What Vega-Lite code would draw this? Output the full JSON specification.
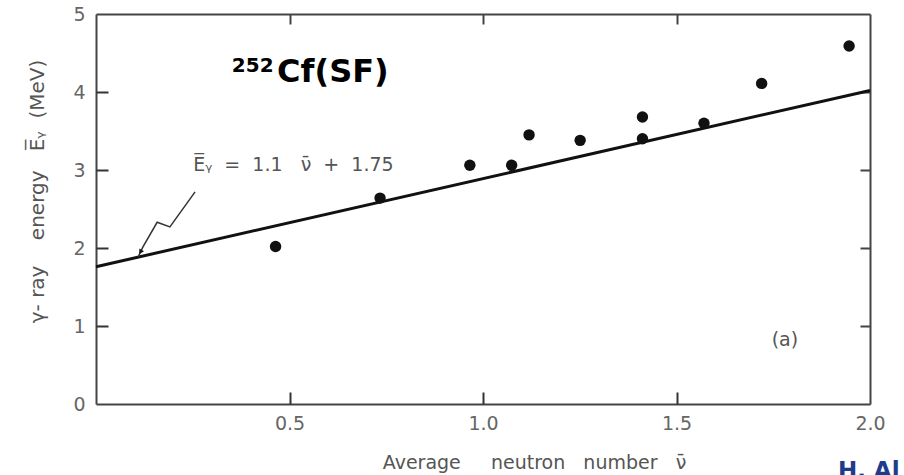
{
  "$schema": "https://vega.github.io/schema/vega-lite/v6.json",
  "width": 774,
  "height": 390,
  "autosize": {"type": "none"},
  "padding": {"left": 96, "top": 14, "right": 34, "bottom": 71},
  "background": "white",
  "config": {"view": {"stroke": null}, "font": "DejaVu Sans"},
  "datasets": {
    "points": [
      {"nu": 0.464, "E": 2.02},
      {"nu": 0.734, "E": 2.64},
      {"nu": 0.966, "E": 3.06},
      {"nu": 1.074, "E": 3.06},
      {"nu": 1.119, "E": 3.45},
      {"nu": 1.251, "E": 3.38},
      {"nu": 1.412, "E": 3.40},
      {"nu": 1.412, "E": 3.68},
      {"nu": 1.571, "E": 3.60},
      {"nu": 1.720, "E": 4.11},
      {"nu": 1.946, "E": 4.59}
    ],
    "fit": [
      {"nu": 0, "E": 1.76},
      {"nu": 2, "E": 4.02}
    ],
    "squiggle": [
      {"nu": 0.109, "E": 1.885, "order": 1},
      {"nu": 0.121, "E": 2.01, "order": 2},
      {"nu": 0.158, "E": 2.33, "order": 3},
      {"nu": 0.191, "E": 2.27, "order": 4},
      {"nu": 0.256, "E": 2.72, "order": 5}
    ]
  },
  "layer": [
    {
      "data": {"name": "fit"},
      "mark": {"type": "line", "color": "#111111", "strokeWidth": 3},
      "encoding": {
        "x": {"field": "nu", "type": "quantitative", "scale": {"domain": [0, 2], "nice": false, "zero": false},
          "axis": {"orient": "top", "ticks": false, "labels": false, "title": null, "grid": false,
            "domainColor": "#444444", "domainWidth": 2}},
        "y": {"field": "E", "type": "quantitative", "scale": {"domain": [0, 5], "nice": false},
          "axis": {"orient": "right", "ticks": false, "labels": false, "title": null, "grid": false,
            "domainColor": "#444444", "domainWidth": 2}}
      }
    },
    {
      "data": {"name": "points"},
      "mark": {"type": "point", "filled": true, "color": "#111111", "size": 130, "opacity": 1},
      "encoding": {
        "x": {"field": "nu", "type": "quantitative",
          "axis": {"orient": "bottom", "values": [0.5, 1, 1.5, 2], "format": ".1f", "grid": false,
            "ticks": false, "tickSize": 0, "domainColor": "#444444", "domainWidth": 2,
            "labelPadding": 10, "labelFontSize": 19, "labelColor": "#666666", "labelFlush": false, "labelOverlap": false,
            "title": "Average\u00a0\u00a0\u00a0\u00a0\u00a0neutron\u00a0\u00a0\u00a0number\u00a0\u00a0\u00a0ν̄", "titleFontSize": 19, "titleFontWeight": "normal", "titleColor": "#555555",
            "titleX": 438, "titleY": 58, "titleAlign": "center", "titleBaseline": "middle"}},
        "y": {"field": "E", "type": "quantitative",
          "axis": {"orient": "left", "values": [0, 1, 2, 3, 4, 5], "format": "d", "grid": false,
            "ticks": false, "tickSize": 0, "domainColor": "#444444", "domainWidth": 2,
            "labelPadding": 11, "labelFontSize": 19, "labelColor": "#666666", "labelFlush": false, "labelOverlap": false,
            "title": "γ-\u00a0ray\u00a0\u00a0\u00a0\u00a0energy\u00a0\u00a0\u00a0E̅ᵧ\u00a0\u00a0(MeV)", "titleFontSize": 20, "titleFontWeight": "normal", "titleColor": "#555555",
            "titleX": -59, "titleY": 177, "titleAlign": "center", "titleBaseline": "middle", "titleAngle": -90}}
      }
    },
    {
      "data": {"name": "squiggle"},
      "mark": {"type": "line", "color": "#333333", "strokeWidth": 1.5},
      "encoding": {
        "x": {"field": "nu", "type": "quantitative",
          "axis": {"orient": "bottom", "offset": -12, "values": [0.5, 1, 1.5], "domain": false, "labels": false, "title": null, "grid": false,
            "ticks": true, "tickSize": 12, "tickWidth": 2, "tickColor": "#333333"}},
        "y": {"field": "E", "type": "quantitative",
          "axis": {"orient": "left", "offset": -12, "values": [1, 2, 3, 4], "domain": false, "labels": false, "title": null, "grid": false,
            "ticks": true, "tickSize": 12, "tickWidth": 2, "tickColor": "#333333"}},
        "order": {"field": "order"}
      }
    },
    {
      "data": {"values": [{"nu": 0.115, "E": 1.95}]},
      "mark": {"type": "point", "shape": "triangle-down", "filled": true, "color": "#111111", "size": 30, "angle": 30, "opacity": 1},
      "encoding": {
        "x": {"field": "nu", "type": "quantitative",
          "axis": {"orient": "top", "offset": -10, "values": [0.5, 1, 1.5], "domain": false, "labels": false, "title": null, "grid": false,
            "ticks": true, "tickSize": 10, "tickWidth": 2, "tickColor": "#444444"}},
        "y": {"field": "E", "type": "quantitative",
          "axis": {"orient": "right", "offset": -10, "values": [1, 2, 3, 4], "domain": false, "labels": false, "title": null, "grid": false,
            "ticks": true, "tickSize": 10, "tickWidth": 2, "tickColor": "#444444"}}
      }
    },
    {
      "data": {"values": [{"nu": 0.351, "E": 4.256, "label": "252"}]},
      "mark": {"type": "text", "align": "left", "baseline": "alphabetic", "font": "DejaVu Sans", "fontWeight": "bold", "fontSize": 20, "color": "#000000"},
      "encoding": {
        "x": {"field": "nu", "type": "quantitative", "axis": null},
        "y": {"field": "E", "type": "quantitative", "axis": null},
        "text": {"field": "label"}
      }
    },
    {
      "data": {"values": [{"nu": 0.468, "E": 4.128, "label": "Cf(SF)"}]},
      "mark": {"type": "text", "align": "left", "baseline": "alphabetic", "font": "DejaVu Sans", "fontWeight": "bold", "fontSize": 32, "color": "#000000"},
      "encoding": {
        "x": {"field": "nu", "type": "quantitative", "axis": null},
        "y": {"field": "E", "type": "quantitative", "axis": null},
        "text": {"field": "label"}
      }
    },
    {
      "data": {"values": [{"nu": 0.251, "E": 3.06, "label": "E̅ᵧ\u00a0\u00a0=\u00a0\u00a01.1\u00a0\u00a0\u00a0ν̄\u00a0\u00a0+\u00a0\u00a01.75"}]},
      "mark": {"type": "text", "align": "left", "baseline": "middle", "font": "DejaVu Sans", "fontSize": 19, "color": "#555555"},
      "encoding": {
        "x": {"field": "nu", "type": "quantitative", "axis": null},
        "y": {"field": "E", "type": "quantitative", "axis": null},
        "text": {"field": "label"}
      }
    },
    {
      "data": {"values": [{"nu": 1.78, "E": 0.82, "label": "(a)"}]},
      "mark": {"type": "text", "align": "center", "baseline": "middle", "font": "DejaVu Sans", "fontSize": 19, "color": "#555555"},
      "encoding": {
        "x": {"field": "nu", "type": "quantitative", "axis": null},
        "y": {"field": "E", "type": "quantitative", "axis": null},
        "text": {"field": "label"}
      }
    },
    {
      "data": {"values": [{"nu": 1.917, "E": -0.95, "label": "H. Al"}]},
      "mark": {"type": "text", "align": "left", "baseline": "alphabetic", "font": "DejaVu Sans", "fontWeight": "bold", "fontSize": 23, "color": "#1f3c8c"},
      "encoding": {
        "x": {"field": "nu", "type": "quantitative", "axis": null},
        "y": {"field": "E", "type": "quantitative", "axis": null},
        "text": {"field": "label"}
      }
    }
  ],
  "resolve": {"axis": {"x": "independent", "y": "independent"}}
}
